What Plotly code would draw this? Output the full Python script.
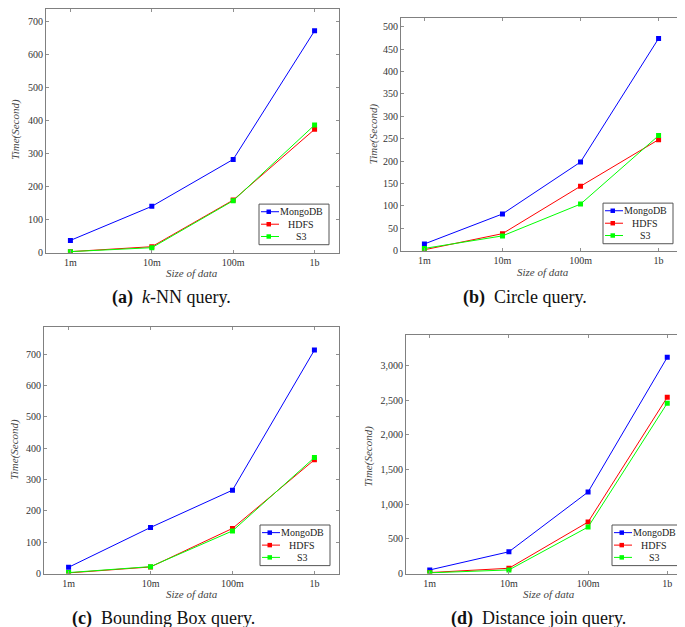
import plotly.graph_objects as go

W, H = 685, 627

categories = ["1m", "10m", "100m", "1b"]
series_names = ["MongoDB", "HDFS", "S3"]
colors = ["#0000ff", "#ff0000", "#00ff00"]

knn_mongo = [37, 140, 282, 671]
knn_hdfs = [3, 18, 159, 373]
knn_s3 = [3, 15, 157, 386]

circle_mongo = [15, 82, 198, 474]
circle_hdfs = [2, 38, 144, 248]
circle_s3 = [5, 33, 104, 257]

bbox_mongo = [20, 147, 266, 713]
bbox_hdfs = [2, 21, 144, 363]
bbox_s3 = [3, 22, 136, 370]

join_mongo = [52, 314, 1176, 3119]
join_hdfs = [14, 76, 743, 2543]
join_s3 = [10, 52, 671, 2457]

captions = ["<b>(a)</b>  <i>k</i>-NN query.", "<b>(b)</b>  Circle query.",
            "<b>(c)</b>  Bounding Box query.", "<b>(d)</b>  Distance join query."]
x_title = "Size of data"
y_title = "Time(Second)"

panels = [
    dict(data=[knn_mongo, knn_hdfs, knn_s3], frame=(38, 331, 1, 247), yr=737, dt=100, fmt=""),
    dict(data=[circle_mongo, circle_hdfs, circle_s3], frame=(393, 674, 10, 245), yr=520, dt=50, fmt=""),
    dict(data=[bbox_mongo, bbox_hdfs, bbox_s3], frame=(36, 331, 322, 571), yr=787, dt=100, fmt=""),
    dict(data=[join_mongo, join_hdfs, join_s3], frame=(398, 683, 330, 571), yr=3443, dt=500, fmt=","),
]
legend_pos = [(321, 239), (665, 238), (322, 563), (674, 563)]
caption_pos = [(163, 292), (517, 292), (155, 616), (530, 616)]
xtitle_pos = [(183.5, 268), (534.5, 267), (184, 592), (541, 592)]
ytitle_pos = [(7.5, 122.5), (365, 127.5), (7, 446), (361, 452)]

FONT = "Liberation Serif, Times New Roman, serif"
fig = go.Figure()
annotations = []
shapes = []
layout = dict(width=W, height=H, margin=dict(l=0, r=0, t=0, b=0),
              paper_bgcolor="white", plot_bgcolor="white",
              font=dict(family=FONT, size=10, color="#333333"), showlegend=False)


def px(x):
    return x / W


def py(y):
    return 1 - y / H


for i, p in enumerate(panels):
    n = "" if i == 0 else str(i + 1)
    xa, ya = "x" + n, "y" + n
    for s, name in enumerate(series_names):
        fig.add_trace(go.Scatter(
            x=categories, y=p["data"][s], name=name, mode="lines+markers",
            line=dict(color=colors[s], width=1),
            marker=dict(symbol="square", size=5, color=colors[s]),
            xaxis=xa, yaxis=ya, showlegend=False))
    l, r, t, b = p["frame"]
    axcommon = dict(showgrid=False, zeroline=False, showline=True, mirror="ticks",
                    linecolor="#808080", linewidth=1, ticks="inside", ticklen=3,
                    tickcolor="#909090", tickfont=dict(family=FONT, size=10, color="#333333"))
    layout["xaxis" + n] = dict(axcommon, domain=[l / W, r / W], anchor=ya,
                               type="category", range=[-0.3, 3.3])
    layout["yaxis" + n] = dict(axcommon, domain=[1 - b / H, 1 - t / H], anchor=xa,
                               range=[0, p["yr"]], dtick=p["dt"], tick0=0, tickformat=p["fmt"])
    tfont = dict(family=FONT, size=11, color="#444444")
    tx, ty = xtitle_pos[i]
    annotations.append(dict(text="<i>" + x_title + "</i>", x=px(tx), y=py(ty), xref="paper",
                            yref="paper", xanchor="center", yanchor="middle", showarrow=False,
                            font=tfont))
    tx, ty = ytitle_pos[i]
    annotations.append(dict(text="<i>" + y_title + "</i>", x=px(tx), y=py(ty), xref="paper",
                            yref="paper", xanchor="center", yanchor="middle", showarrow=False,
                            textangle=-90, font=tfont))
    # legend box (drawn like the pgfplots legend)
    R, B = legend_pos[i]
    shapes.append(dict(type="rect", xref="paper", yref="paper",
                       x0=px(R - 70), x1=px(R), y0=py(B), y1=py(B - 41),
                       line=dict(color="#555555", width=1), fillcolor="white", layer="above"))
    for s, name in enumerate(series_names):
        yc = B - [33.3, 20.7, 8.3][s]
        shapes.append(dict(type="line", xref="paper", yref="paper",
                           x0=px(R - 68), x1=px(R - 50), y0=py(yc), y1=py(yc),
                           line=dict(color=colors[s], width=1), layer="above"))
        shapes.append(dict(type="rect", xref="paper", yref="paper",
                           x0=px(R - 62.5), x1=px(R - 58), y0=py(yc + 2.25), y1=py(yc - 2.25),
                           line=dict(color=colors[s], width=0), fillcolor=colors[s], layer="above"))
        annotations.append(dict(text=name, x=px(R - 28), y=py(yc), xref="paper", yref="paper",
                                xanchor="center", yanchor="middle", showarrow=False,
                                font=dict(family=FONT, size=10, color="#222222")))
    cx, cy = caption_pos[i]
    annotations.append(dict(text=captions[i], x=px(cx), y=py(cy), xref="paper", yref="paper",
                            xanchor="center", yanchor="middle", showarrow=False,
                            font=dict(family=FONT, size=18, color="#111111")))

layout["annotations"] = annotations
layout["shapes"] = shapes
fig.update_layout(**layout)
fig.write_html("out.html")
